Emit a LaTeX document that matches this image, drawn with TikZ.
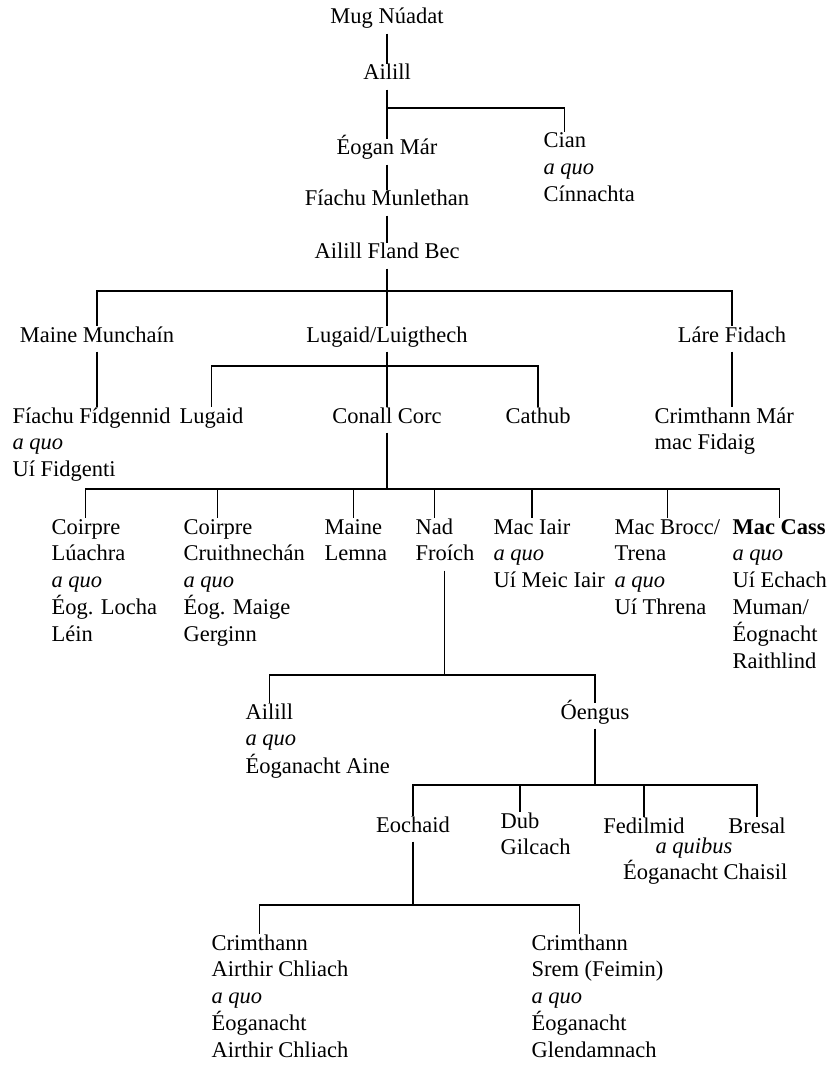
\documentclass[tikz,border=0pt]{standalone}
\usepackage{fontspec}
\setmainfont{Liberation Serif}
\newcommand{\kinlines}[1]{\begin{tabular}[t]{@{}l@{}}#1\end{tabular}}

\begin{document}
\begin{tikzpicture}[font=\fontsize{16}{19.06}\selectfont, line width=0.8pt,
    person/.style={inner xsep=0pt, inner ysep=4pt, text height=0.7em, text depth=0.25em},
    lineage/.style={inner xsep=0pt, inner ysep=4pt}]
        \useasboundingbox (0,0) rectangle (20.8,-26.625);
        \node[person, anchor=base] (mug) at (9.675,-0.6) {Mug Núadat};
        \node[person, anchor=base] (ailill) at (9.675,-2) {Ailill};
        \node[person, anchor=base] (eogan) at (9.675,-3.875) {Éogan Már};
        \node[person, anchor=base west] (cian) at (13.575,-3.7) {Cian};
        \node[lineage, anchor=base west] (cianx) at (13.575,-4.37) {\kinlines{\textit{a quo}\\Cínnachta}};
        \node[person, anchor=base] (fiachu) at (9.675,-5.15) {Fíachu Munlethan};
        \node[person, anchor=base] (fland) at (9.675,-6.475) {Ailill Fland Bec};
        \node[person, anchor=base] (maine) at (2.425,-8.55) {Maine Munchaín};
        \node[person, anchor=base] (lugaid) at (9.675,-8.55) {Lugaid/Luigthech};
        \node[person, anchor=base] (lare) at (18.3,-8.55) {Láre Fidach};
        \node[person, anchor=base west] (fidg) at (0.3,-10.575) {Fíachu Fídgennid};
        \node[lineage, anchor=base west] (fidgx) at (0.3,-11.245) {\kinlines{\textit{a quo}\\Uí Fidgenti}};
        \node[person, anchor=base west] (lugaidb) at (4.475,-10.575) {Lugaid};
        \node[person, anchor=base] (conall) at (9.675,-10.575) {Conall Corc};
        \node[person, anchor=base] (cathub) at (13.45,-10.575) {Cathub};
        \node[person, anchor=base west] (crimmar) at (16.35,-10.575) {Crimthann Már};
        \node[person, anchor=base west] (crimmarx) at (16.35,-11.245) {mac Fidaig};
        \node[person, anchor=base west] (coirprea) at (1.275,-13.35) {Coirpre};
        \node[lineage, anchor=base west] (coirpreax) at (1.275,-14.02) {\kinlines{Lúachra\\\textit{a quo}\\Éog. Locha\\Léin}};
        \node[person, anchor=base west] (coirpreb) at (4.575,-13.35) {Coirpre};
        \node[lineage, anchor=base west] (coirprebx) at (4.575,-14.02) {\kinlines{Cruithnechán\\\textit{a quo}\\Éog. Maige\\Gerginn}};
        \node[person, anchor=base west] (mainel) at (8.1,-13.35) {Maine};
        \node[person, anchor=base west] (mainelx) at (8.1,-14.02) {Lemna};
        \node[person, anchor=base west] (nad) at (10.375,-13.35) {Nad};
        \node[person, anchor=base west] (nadx) at (10.375,-14.02) {Froích};
        \node[person, anchor=base west] (maciair) at (12.325,-13.35) {Mac Iair};
        \node[lineage, anchor=base west] (maciairx) at (12.325,-14.02) {\kinlines{\textit{a quo}\\Uí Meic Iair}};
        \node[person, anchor=base west] (macbrocc) at (15.35,-13.35) {Mac Brocc/};
        \node[lineage, anchor=base west] (macbroccx) at (15.35,-14.02) {\kinlines{Trena\\\textit{a quo}\\Uí Threna}};
        \node[person, anchor=base west] (maccass) at (18.3,-13.35) {\textbf{Mac Cass}};
        \node[lineage, anchor=base west] (maccassx) at (18.3,-14.02) {\kinlines{\textit{a quo}\\Uí Echach\\Muman/\\Éognacht\\Raithlind}};
        \node[person, anchor=base west] (ailillc) at (6.125,-17.975) {Ailill};
        \node[lineage, anchor=base west] (ailillcx) at (6.125,-18.645) {\kinlines{\textit{a quo}\\Éoganacht Aine}};
        \node[person, anchor=base] (oengus) at (14.875,-17.975) {Óengus};
        \node[person, anchor=base] (eochaid) at (10.325,-20.8) {Eochaid};
        \node[person, anchor=base west] (dub) at (12.5,-20.7) {Dub};
        \node[person, anchor=base west] (dubx) at (12.5,-21.37) {Gilcach};
        \node[person, anchor=base] (fedilmid) at (16.1,-20.825) {Fedilmid};
        \node[person, anchor=base] (bresal) at (18.925,-20.825) {Bresal};
        \node[person, anchor=base] (quibus) at (17.35,-21.325) {\textit{a quibus}};
        \node[person, anchor=base east] (chaisil) at (19.7,-21.975) {Éoganacht Chaisil};
        \node[person, anchor=base west] (crima) at (5.275,-23.75) {Crimthann};
        \node[lineage, anchor=base west] (crimax) at (5.275,-24.42) {\kinlines{Airthir Chliach\\\textit{a quo}\\Éoganacht\\Airthir Chliach}};
        \node[person, anchor=base west] (crimb) at (13.275,-23.75) {Crimthann};
        \node[lineage, anchor=base west] (crimbx) at (13.275,-24.42) {\kinlines{Srem (Feimin)\\\textit{a quo}\\Éoganacht\\Glendamnach}};
        \draw (mug) -- (ailill);
        \coordinate (j1) at (ailill |- 0,-2.7);
        \draw (ailill) -- (eogan);
        \draw (j1) -| (cian);
        \draw (eogan) -- (fiachu);
        \draw (fiachu) -- (fland);
        \coordinate (j2) at (fland |- 0,-7.275);
        \draw (fland) -- (lugaid);
        \draw (maine) |- (j2) -| (lare);
        \draw (maine) -- (maine |- fidg.north);
        \draw (lare) -- (lare |- crimmar.north);
        \coordinate (j3) at (lugaid |- 0,-9.15);
        \draw (lugaid) -- (conall);
        \draw (lugaidb) |- (j3) -| (cathub);
        \coordinate (j4) at (conall |- 0,-12.225);
        \draw (conall) -- (j4);
        \draw (coirprea) |- (j4) -| (maccass);
        \draw (coirpreb) -- (coirpreb |- j4);
        \draw (mainel) -- (mainel |- j4);
        \draw (nad) -- (nad |- j4);
        \draw (maciair) -- (maciair |- j4);
        \draw (macbrocc) -- (macbrocc |- j4);
        \coordinate (j5) at (nadx |- 0,-16.875);
        \draw (nadx) -- (j5);
        \draw (ailillc) |- (j5) -| (oengus);
        \coordinate (j6) at (oengus |- 0,-19.625);
        \draw (oengus) -- (j6);
        \draw (eochaid) |- (j6) -| (bresal);
        \draw (dub) -- (dub |- j6);
        \draw (fedilmid) -- (fedilmid |- j6);
        \coordinate (j7) at (eochaid |- 0,-22.625);
        \draw (eochaid) -- (j7);
        \draw (crima) |- (j7) -| (crimb);
    \end{tikzpicture}
\end{document}
